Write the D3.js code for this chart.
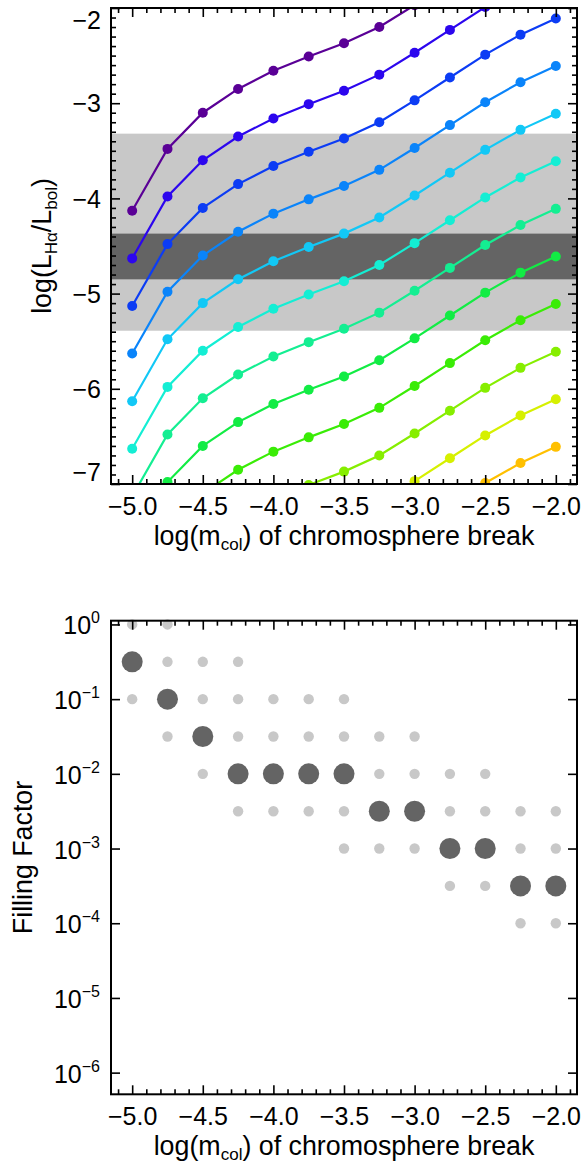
<!DOCTYPE html>
<html><head><meta charset="utf-8">
<script src="https://cdn.jsdelivr.net/npm/d3@7"></script>
<style>
body{margin:0;background:#fff}
svg{display:block}
text{font-family:"Liberation Sans",Arial,Helvetica,sans-serif;fill:#000}
</style>
</head><body>
<svg id="chart" width="584" height="1164"></svg>
<script>
// ---------- data ----------
const mcol = [-5.0,-4.75,-4.5,-4.25,-4.0,-3.75,-3.5,-3.25,-3.0,-2.75,-2.5,-2.25,-2.0];

// log(L_Halpha/L_bol) curves (null = not drawn / far outside the plot)
const curve0  = [-4.13,-3.48,-3.10,-2.85,-2.66,-2.51,-2.37,-2.20,-1.97,-1.73,null,null,null];
const curve1  = [-4.63,-3.98,-3.60,-3.35,-3.16,-3.01,-2.87,-2.70,-2.47,-2.23,-1.99,-1.78,null];
const curve2  = [-5.13,-4.48,-4.10,-3.85,-3.66,-3.51,-3.37,-3.20,-2.97,-2.73,-2.49,-2.28,-2.11];
const curve3  = [-5.63,-4.98,-4.60,-4.35,-4.16,-4.01,-3.87,-3.70,-3.47,-3.23,-2.99,-2.78,-2.61];
const curve4  = [-6.13,-5.48,-5.10,-4.85,-4.66,-4.51,-4.37,-4.20,-3.97,-3.73,-3.49,-3.28,-3.11];
const curve5  = [-6.63,-5.98,-5.60,-5.35,-5.16,-5.01,-4.87,-4.70,-4.47,-4.23,-3.99,-3.78,-3.61];
const curve6  = [-7.13,-6.48,-6.10,-5.85,-5.66,-5.51,-5.37,-5.20,-4.97,-4.73,-4.49,-4.28,-4.11];
const curve7  = [-7.63,-6.98,-6.60,-6.35,-6.16,-6.01,-5.87,-5.70,-5.47,-5.23,-4.99,-4.78,-4.61];
const curve8  = [null,-7.48,-7.10,-6.85,-6.66,-6.51,-6.37,-6.20,-5.97,-5.73,-5.49,-5.28,-5.11];
const curve9  = [null,null,-7.60,-7.35,-7.16,-7.01,-6.87,-6.70,-6.47,-6.23,-5.99,-5.78,-5.61];
const curve10 = [null,null,null,null,null,-7.51,-7.37,-7.20,-6.97,-6.73,-6.49,-6.28,-6.11];
const curve11 = [null,null,null,null,null,null,null,-7.70,-7.47,-7.23,-6.99,-6.78,-6.61];
const curves = [curve0,curve1,curve2,curve3,curve4,curve5,curve6,curve7,curve8,curve9,curve10,curve11];
const curveColors = ["#5a0096","#2c06ee","#0c3cf4","#0a84fa","#12c8f6","#14eed4","#14ee92","#12ec44","#3aec06","#86ee00","#d6f000","#ffc000"];

// observed ranges (light = outer, dark = inner)
const bandOuter = [-5.39,-3.32];
const bandInner = [-4.85,-4.37];

// filling factors: best fit (large dark) and allowed (small light), per mcol
const bestFF = [3.16e-1,1e-1,3.16e-2,1e-2,1e-2,1e-2,1e-2,3.16e-3,3.16e-3,1e-3,1e-3,3.16e-4,3.16e-4];
const allowedFF = [
  [1,1e-1],
  [1,3.16e-1,3.16e-2],
  [3.16e-1,1e-1,1e-2],
  [3.16e-1,1e-1,3.16e-2,3.16e-3],
  [1e-1,3.16e-2,3.16e-3],
  [1e-1,3.16e-2,3.16e-3],
  [1e-1,3.16e-2,3.16e-3,1e-3],
  [3.16e-2,1e-2,1e-3],
  [3.16e-2,1e-2,1e-3],
  [1e-2,3.16e-3,3.16e-4],
  [1e-2,3.16e-3,3.16e-4],
  [3.16e-3,1e-3,1e-4],
  [3.16e-3,1e-3,1e-4]
];

const xTicks = [-5.0,-4.5,-4.0,-3.5,-3.0,-2.5,-2.0];
const yTicksTop = [-7,-6,-5,-4,-3,-2];
const yTicksBottom = [1,1e-1,1e-2,1e-3,1e-4,1e-5,1e-6];

// ---------- layout ----------
const svg = d3.select("#chart");
const L = 111, R = 577;
const top1 = 8, bot1 = 484;
const top2 = 620.7, bot2 = 1094.3;

const x = d3.scaleLinear().domain([-5.15,-1.85]).range([L,R]);
const y1 = d3.scaleLinear().domain([-7,-2]).range([bot1,top1]);
const y2 = d3.scaleLog().domain([Math.pow(10,-6.29),Math.pow(10,0.05)]).range([bot2,top2]);

const fmtX = d => (d<0?"\u2212":"") + Math.abs(d).toFixed(1);
const fmtYTop = d => (d<0?"\u2212":"") + Math.abs(d);
const xMinor = d3.range(-51,-18).map(i=>i/10).filter(v=>Math.abs(v*2-Math.round(v*2))>1e-6);
const yMinorTop = d3.range(-69,-20).map(i=>i/10).filter(v=>Math.abs(v-Math.round(v))>1e-6);

function styleAxis(g){
  g.select(".domain").remove();
  g.selectAll("line").attr("stroke","#000").attr("stroke-width",1.6);
  g.selectAll("text").attr("font-size",25).attr("fill","#000")
    .style("font-family","'Liberation Sans',Arial,sans-serif");
}

// ---------- top panel ----------
const p1 = svg.append("g");
svg.append("defs").append("clipPath").attr("id","clip1")
  .append("rect").attr("x",L).attr("y",top1).attr("width",R-L).attr("height",bot1-top1);

p1.append("rect").attr("x",L).attr("y",y1(bandOuter[1])).attr("width",R-L)
  .attr("height",y1(bandOuter[0])-y1(bandOuter[1])).attr("fill","#c8c8c8");
p1.append("rect").attr("x",L).attr("y",y1(bandInner[1])).attr("width",R-L)
  .attr("height",y1(bandInner[0])-y1(bandInner[1])).attr("fill","#646464");

const plotArea = p1.append("g").attr("clip-path","url(#clip1)");
const line = d3.line().defined(d=>d[1]!==null).x(d=>x(d[0])).y(d=>y1(d[1]));
curves.forEach((c,i)=>{
  const pts = mcol.map((m,j)=>[m,c[j]]);
  plotArea.append("path").datum(pts).attr("d",line)
    .attr("fill","none").attr("stroke",curveColors[i]).attr("stroke-width",2.2);
  plotArea.selectAll(null).data(pts.filter(d=>d[1]!==null)).enter().append("circle")
    .attr("cx",d=>x(d[0])).attr("cy",d=>y1(d[1])).attr("r",5).attr("fill",curveColors[i]);
});

// axes top panel
let g;
g = p1.append("g").attr("transform",`translate(0,${bot1})`)
  .call(d3.axisBottom(x).tickValues(xTicks).tickFormat(fmtX).tickSizeInner(-9).tickSizeOuter(0).tickPadding(13));
styleAxis(g);
g = p1.append("g").attr("transform",`translate(0,${bot1})`)
  .call(d3.axisBottom(x).tickValues(xMinor).tickFormat("").tickSizeInner(-5).tickSizeOuter(0));
styleAxis(g);
g = p1.append("g").attr("transform",`translate(0,${top1})`)
  .call(d3.axisTop(x).tickValues(xTicks).tickFormat("").tickSizeInner(-9).tickSizeOuter(0));
styleAxis(g);
g = p1.append("g").attr("transform",`translate(0,${top1})`)
  .call(d3.axisTop(x).tickValues(xMinor).tickFormat("").tickSizeInner(-5).tickSizeOuter(0));
styleAxis(g);
g = p1.append("g").attr("transform",`translate(${L},0)`)
  .call(d3.axisLeft(y1).tickValues(yTicksTop).tickFormat(fmtYTop).tickSizeInner(-9).tickSizeOuter(0).tickPadding(10));
styleAxis(g);
g.selectAll(".tick text").attr("dy",d=> d===-2 ? "0.8em" : d===-7 ? "-0.15em" : "0.35em");
g = p1.append("g").attr("transform",`translate(${L},0)`)
  .call(d3.axisLeft(y1).tickValues(yMinorTop).tickFormat("").tickSizeInner(-5).tickSizeOuter(0));
styleAxis(g);
g = p1.append("g").attr("transform",`translate(${R},0)`)
  .call(d3.axisRight(y1).tickValues(yTicksTop).tickFormat("").tickSizeInner(-9).tickSizeOuter(0));
styleAxis(g);
g = p1.append("g").attr("transform",`translate(${R},0)`)
  .call(d3.axisRight(y1).tickValues(yMinorTop).tickFormat("").tickSizeInner(-5).tickSizeOuter(0));
styleAxis(g);
p1.append("rect").attr("x",L).attr("y",top1).attr("width",R-L).attr("height",bot1-top1)
  .attr("fill","none").attr("stroke","#000").attr("stroke-width",2);

// titles
function xTitle(parent, yBase){
  const t = parent.append("text").attr("x",(L+R)/2).attr("y",yBase)
    .attr("text-anchor","middle").attr("font-size",26.8);
  t.append("tspan").text("log(m");
  t.append("tspan").attr("font-size",17).attr("dy",5).text("col");
  t.append("tspan").attr("dy",-5).text(") of chromosphere break");
}
xTitle(p1, bot1+60.5);

const yt1 = p1.append("text").attr("transform",`translate(50.5,${(top1+bot1)/2}) rotate(-90)`)
  .attr("text-anchor","middle").attr("font-size",26.8);
yt1.append("tspan").text("log(L");
yt1.append("tspan").attr("font-size",17).attr("dy",6).text("H\u03b1");
yt1.append("tspan").attr("dy",-6).text("/L");
yt1.append("tspan").attr("font-size",17).attr("dy",6).text("bol");
yt1.append("tspan").attr("dy",-6).text(")");

// ---------- bottom panel ----------
const p2 = svg.append("g");
allowedFF.forEach((arr,j)=>{
  p2.selectAll(null).data(arr).enter().append("circle")
    .attr("cx",x(mcol[j])).attr("cy",d=>y2(d)).attr("r",5.2).attr("fill","#c8c8c8");
});
p2.selectAll(null).data(bestFF).enter().append("circle")
  .attr("cx",(d,j)=>x(mcol[j])).attr("cy",d=>y2(d)).attr("r",10.5).attr("fill","#646464");

g = p2.append("g").attr("transform",`translate(0,${bot2})`)
  .call(d3.axisBottom(x).tickValues(xTicks).tickFormat(fmtX).tickSizeInner(-9).tickSizeOuter(0).tickPadding(13));
styleAxis(g);
g = p2.append("g").attr("transform",`translate(0,${bot2})`)
  .call(d3.axisBottom(x).tickValues(xMinor).tickFormat("").tickSizeInner(-5).tickSizeOuter(0));
styleAxis(g);
g = p2.append("g").attr("transform",`translate(0,${top2})`)
  .call(d3.axisTop(x).tickValues(xTicks).tickFormat("").tickSizeInner(-9).tickSizeOuter(0));
styleAxis(g);
g = p2.append("g").attr("transform",`translate(0,${top2})`)
  .call(d3.axisTop(x).tickValues(xMinor).tickFormat("").tickSizeInner(-5).tickSizeOuter(0));
styleAxis(g);
g = p2.append("g").attr("transform",`translate(${L},0)`)
  .call(d3.axisLeft(y2).tickValues(yTicksBottom).tickFormat(()=>"").tickSizeInner(-9).tickSizeOuter(0).tickPadding(10));
styleAxis(g);
g.selectAll(".tick").each(function(d){
  const e = Math.round(Math.log10(d));
  const t = d3.select(this).append("text").attr("x",-11).attr("dy","0.38em")
    .attr("text-anchor","end").attr("font-size",25).attr("fill","#000");
  t.append("tspan").text("10");
  t.append("tspan").attr("font-size",16).attr("dy",-11).text(e<0 ? "\u2212"+Math.abs(e) : String(e));
});
g = p2.append("g").attr("transform",`translate(${R},0)`)
  .call(d3.axisRight(y2).tickValues(yTicksBottom).tickFormat(()=>"").tickSizeInner(-9).tickSizeOuter(0));
styleAxis(g);
p2.append("rect").attr("x",L).attr("y",top2).attr("width",R-L).attr("height",bot2-top2)
  .attr("fill","none").attr("stroke","#000").attr("stroke-width",2);

xTitle(p2, bot2+60.5);
p2.append("text").attr("transform",`translate(32,${(top2+bot2)/2}) rotate(-90)`)
  .attr("text-anchor","middle").attr("font-size",26.8).text("Filling Factor");
</script>
</body></html>
